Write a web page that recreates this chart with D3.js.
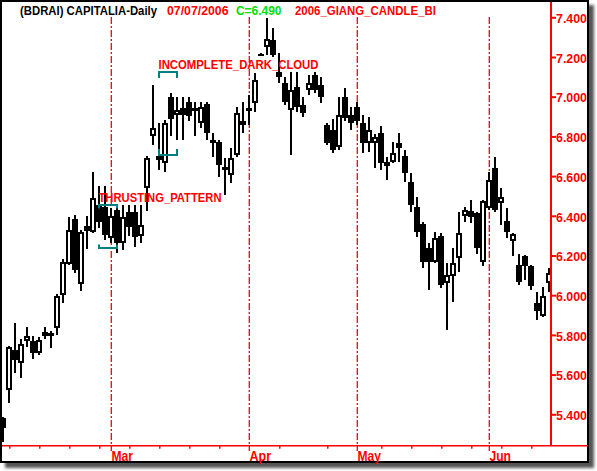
<!DOCTYPE html>
<html><head><meta charset="utf-8">
<script src="https://cdn.jsdelivr.net/npm/d3@7"></script>
<style>html,body{margin:0;padding:0;background:#fff;} svg{display:block;}</style>
</head><body>
<svg id="chart" width="597" height="471"></svg>
<script>
// ---------- data ----------
const dates = [
 "2006-02-03",
 "2006-02-06","2006-02-07","2006-02-08","2006-02-09","2006-02-10",
 "2006-02-13","2006-02-14","2006-02-15","2006-02-16","2006-02-17",
 "2006-02-20","2006-02-21","2006-02-22","2006-02-23","2006-02-24",
 "2006-02-27","2006-02-28","2006-03-01","2006-03-02","2006-03-03",
 "2006-03-06","2006-03-07","2006-03-08","2006-03-09","2006-03-10",
 "2006-03-13","2006-03-14","2006-03-15","2006-03-16","2006-03-17",
 "2006-03-20","2006-03-21","2006-03-22","2006-03-23","2006-03-24",
 "2006-03-27","2006-03-28","2006-03-29","2006-03-30","2006-03-31",
 "2006-04-03","2006-04-04","2006-04-05","2006-04-06","2006-04-07",
 "2006-04-10","2006-04-11","2006-04-12","2006-04-13",
 "2006-04-18","2006-04-19","2006-04-20","2006-04-21",
 "2006-04-24","2006-04-25","2006-04-26","2006-04-27","2006-04-28",
 "2006-05-02","2006-05-03","2006-05-04","2006-05-05",
 "2006-05-08","2006-05-09","2006-05-10","2006-05-11","2006-05-12",
 "2006-05-15","2006-05-16","2006-05-17","2006-05-18","2006-05-19",
 "2006-05-22","2006-05-23","2006-05-24","2006-05-25","2006-05-26",
 "2006-05-29","2006-05-30","2006-05-31","2006-06-01","2006-06-02",
 "2006-06-05","2006-06-06","2006-06-07","2006-06-08","2006-06-09",
 "2006-06-12","2006-06-13","2006-06-14","2006-06-15"
];
const open = [
 5.38,5.52,5.725,5.66,5.77,5.77,5.71,5.815,5.81,5.835,
 6.00,6.155,6.385,6.055,6.35,6.32,6.455,6.445,6.29,6.43,
 6.265,6.42,6.42,6.30,6.54,6.80,6.70,6.665,7.00,6.91,
 6.945,6.975,6.945,6.865,6.965,6.78,6.77,6.645,6.605,6.705,
 6.88,6.945,6.97,7.215,7.25,7.285,7.125,7.07,6.935,7.05,
 6.96,7.035,7.11,7.06,6.855,6.83,6.745,7.00,6.91,6.95,
 6.865,6.765,6.765,6.815,6.67,6.67,6.765,6.70,6.57,6.445,
 6.36,6.24,6.165,6.30,6.06,6.095,6.185,6.40,6.425,6.415,
 6.165,6.44,6.64,6.465,6.375,6.275,6.15,6.20,6.145,5.96,
 5.895,6.06
];
const high = [
 5.385,5.745,5.86,5.78,5.84,5.795,5.79,5.84,5.82,6.005,
 6.18,6.395,6.405,6.33,6.40,6.62,6.55,6.55,6.44,6.455,
 6.455,6.455,6.455,6.455,6.70,7.06,6.87,6.885,7.02,7.00,
 7.00,7.00,6.975,6.975,6.975,6.815,6.78,6.69,6.74,6.95,
 6.975,7.01,7.12,7.22,7.395,7.345,7.22,7.10,7.125,7.125,
 7.00,7.11,7.125,7.10,6.865,6.89,7.00,7.045,6.95,6.975,
 6.91,6.90,6.81,6.85,6.695,6.77,6.815,6.73,6.615,6.495,
 6.37,6.265,6.32,6.315,6.16,6.24,6.42,6.445,6.48,6.42,
 6.48,6.62,6.695,6.54,6.44,6.315,6.21,6.205,6.15,6.015,
 6.04,6.135
];
const low = [
 5.26,5.455,5.61,5.585,5.74,5.68,5.70,5.78,5.735,5.80,
 5.96,6.15,6.11,6.02,6.235,6.315,6.34,6.28,6.265,6.215,
 6.23,6.30,6.245,6.265,6.425,6.755,6.63,6.62,6.80,6.78,
 6.78,6.88,6.80,6.84,6.78,6.695,6.595,6.505,6.565,6.695,
 6.815,6.855,6.925,7.205,7.21,7.20,7.07,6.96,6.705,6.925,
 6.90,7.01,7.02,6.97,6.755,6.715,6.73,6.88,6.83,6.855,
 6.715,6.72,6.64,6.63,6.58,6.665,6.67,6.57,6.42,6.295,
 6.135,6.025,6.16,6.035,5.825,5.965,6.115,6.37,6.365,6.21,
 6.145,6.43,6.42,6.355,6.29,6.20,6.05,6.075,6.025,5.875,
 5.89,6.015
];
const close = [
 5.33,5.74,5.675,5.755,5.795,5.71,5.775,5.795,5.795,5.995,
 6.165,6.33,6.125,6.32,6.325,6.49,6.37,6.305,6.40,6.265,
 6.395,6.345,6.295,6.355,6.69,6.84,6.68,6.87,6.89,6.935,
 6.91,6.905,6.93,6.95,6.815,6.765,6.655,6.63,6.69,6.92,
 6.855,6.93,7.085,7.21,7.29,7.21,7.10,6.975,7.035,6.95,
 6.92,7.07,7.035,7.00,6.765,6.73,6.91,6.895,6.87,6.88,
 6.765,6.83,6.795,6.665,6.65,6.715,6.74,6.615,6.455,6.32,
 6.165,6.165,6.29,6.05,6.10,6.16,6.315,6.43,6.395,6.24,
 6.475,6.58,6.43,6.495,6.32,6.31,6.065,6.145,6.045,5.92,
 5.995,6.11
];
const yTicks = [5.4,5.6,5.8,6.0,6.2,6.4,6.6,6.8,7.0,7.2,7.4];
const monthNames = ["Jan","Feb","Mar","Apr","May","Jun","Jul","Aug","Sep","Oct","Nov","Dec"];
const titleParts = ["(BDRAI) CAPITALIA-Daily","07/07/2006","C=6.490","2006_GIANG_CANDLE_BI"];
const patternNames = ["THRUSTING_PATTERN","INCOMPLETE_DARK_CLOUD"];
const patternFrom = [16, 26];
const patternTo = [19, 29];
const patternTop = [6.455, 7.124];
const patternBottom = [6.238, 6.706];

// ---------- layout ----------
const svg = d3.select("#chart");
const RED = "#ff0000", TEAL = "#008080";
const FONT = "'Liberation Sans', Arial, sans-serif";
const n = dates.length;
const parse = d3.timeParse("%Y-%m-%d");
const dd = dates.map(parse);

const x = d3.scaleLinear().domain([0, n - 1]).range([3, 3 + 6 * (n - 1)]);
const y = d3.scaleLinear().domain([5.4, 7.4]).range([414.3, 17.3]);
const axisX = 551, axisY = 445.7;

// frame with shadow
const defs = svg.append("defs");
const f = defs.append("filter").attr("id", "sh").attr("x", "-5%").attr("y", "-5%").attr("width", "115%").attr("height", "115%");
f.append("feGaussianBlur").attr("stdDeviation", 1.8);
defs.append("clipPath").attr("id", "plotclip").append("rect")
  .attr("x", 2).attr("y", 2).attr("width", axisX - 2.5).attr("height", axisY - 2);

svg.append("rect").attr("x", 5).attr("y", 5).attr("width", 589).attr("height", 463)
  .attr("fill", "#555").attr("filter", "url(#sh)");
svg.append("rect").attr("x", 1).attr("y", 1).attr("width", 587).attr("height", 461)
  .attr("fill", "#fff").attr("stroke", "#000").attr("stroke-width", 2);

// month separators (first trading day of each month)
const monthIdx = d3.range(1, n).filter(i => dd[i].getMonth() !== dd[i - 1].getMonth());
const mondayIdx = d3.range(n).filter(i => dd[i].getDay() === 1 && !monthIdx.includes(i));

svg.append("g").selectAll("line").data(monthIdx).join("line")
  .attr("x1", i => x(i) + 0.3).attr("x2", i => x(i) + 0.3)
  .attr("y1", 17).attr("y2", 451)
  .attr("stroke", RED).attr("stroke-width", 1.3)
  .attr("stroke-dasharray", "7,2,2,2");

// candles
const gC = svg.append("g").attr("clip-path", "url(#plotclip)").attr("shape-rendering", "crispEdges");
const idx = d3.range(n);
gC.selectAll("rect.wick").data(idx).join("rect").attr("class", "wick")
  .attr("x", i => x(i) - 1).attr("width", 2)
  .attr("y", i => y(high[i])).attr("height", i => Math.max(1, y(low[i]) - y(high[i])))
  .attr("fill", "#000");
function bodyTop(i) { return y(Math.max(open[i], close[i])); }
function bodyH(i) { return Math.max(2, Math.abs(y(open[i]) - y(close[i]))); }
gC.selectAll("rect.body").data(idx).join("rect").attr("class", "body")
  .attr("x", i => x(i) - 3).attr("width", 6)
  .attr("y", bodyTop).attr("height", bodyH).attr("fill", "#000");
gC.selectAll("rect.hollow").data(idx.filter(i => close[i] > open[i] && bodyH(i) > 4)).join("rect").attr("class", "hollow")
  .attr("x", i => x(i) - 1).attr("width", 2)
  .attr("y", i => bodyTop(i) + 2).attr("height", i => bodyH(i) - 4).attr("fill", "#fff");

// axes lines
svg.append("line").attr("x1", axisX).attr("x2", axisX).attr("y1", 2).attr("y2", axisY)
  .attr("stroke", RED).attr("stroke-width", 2);
svg.append("line").attr("x1", 2).attr("x2", 588).attr("y1", axisY).attr("y2", axisY)
  .attr("stroke", RED).attr("stroke-width", 1.6);

// right axis
const yAxis = d3.axisRight(y).tickValues(yTicks).tickFormat(d3.format(".3f")).tickSize(5).tickPadding(0);
const gY = svg.append("g").attr("transform", `translate(${axisX},0)`).call(yAxis);
gY.select(".domain").remove();
gY.selectAll(".tick line").attr("stroke", RED).attr("stroke-width", 2);
gY.selectAll(".tick text").attr("fill", RED).attr("font-family", FONT).attr("font-weight", "bold")
  .attr("font-size", 12.5).attr("dy", "0.42em").attr("textLength", 31).attr("lengthAdjust", "spacingAndGlyphs");

// bottom axis: weekly ticks
const xAxis = d3.axisBottom(x).tickValues(mondayIdx).tickSize(3).tickFormat("");
const gX = svg.append("g").attr("transform", `translate(0.3,${axisY})`).call(xAxis);
gX.select(".domain").remove();
gX.selectAll(".tick line").attr("stroke", RED).attr("stroke-width", 1.4);

// helper: bold text stretched vertically like the bitmap font of the original
function label(g, txt, px, py, fs, w, color) {
  return g.append("text")
    .attr("transform", `translate(${px},${py}) scale(1,1.18)`)
    .attr("fill", color).attr("font-family", FONT).attr("font-weight", "bold").attr("font-size", fs)
    .attr("textLength", w).attr("lengthAdjust", "spacingAndGlyphs")
    .text(txt);
}

// month labels
const gM = svg.append("g");
monthIdx.forEach(i => {
  const nm = monthNames[dd[i].getMonth()];
  label(gM, nm, x(i) + 0.5, 461, 12, nm === "May" ? 23.5 : 21.5, RED);
});

// pattern brackets and labels
const tickLen = [3.5, 6];
patternNames.forEach((name, k) => {
  const x1 = x(patternFrom[k]), x2 = x(patternTo[k]);
  const yt = y(patternTop[k]), yb = y(patternBottom[k]);
  const t = tickLen[k];
  const g = svg.append("g").attr("fill", "none").attr("stroke", TEAL).attr("stroke-width", 2);
  g.append("path").attr("d", `M${x1},${yt + t}V${yt}H${x2}V${yt + t}`);
  g.append("path").attr("d", `M${x1},${yb - t}V${yb}H${x2}V${yb - t}`);
  label(svg, name, x1 - 0.5, yt - 3, 11.1, k === 0 ? 123 : 160, RED);
});

// title
const titleX = [20, 167, 236, 295];
const titleW = [137, 61.5, 45.5, 141];
const titleC = ["#000", RED, "#00e000", RED];
const gT = svg.append("g");
titleParts.forEach((t, i) => label(gT, t, titleX[i], 15, 11.2, titleW[i], titleC[i]));
</script>
</body></html>
